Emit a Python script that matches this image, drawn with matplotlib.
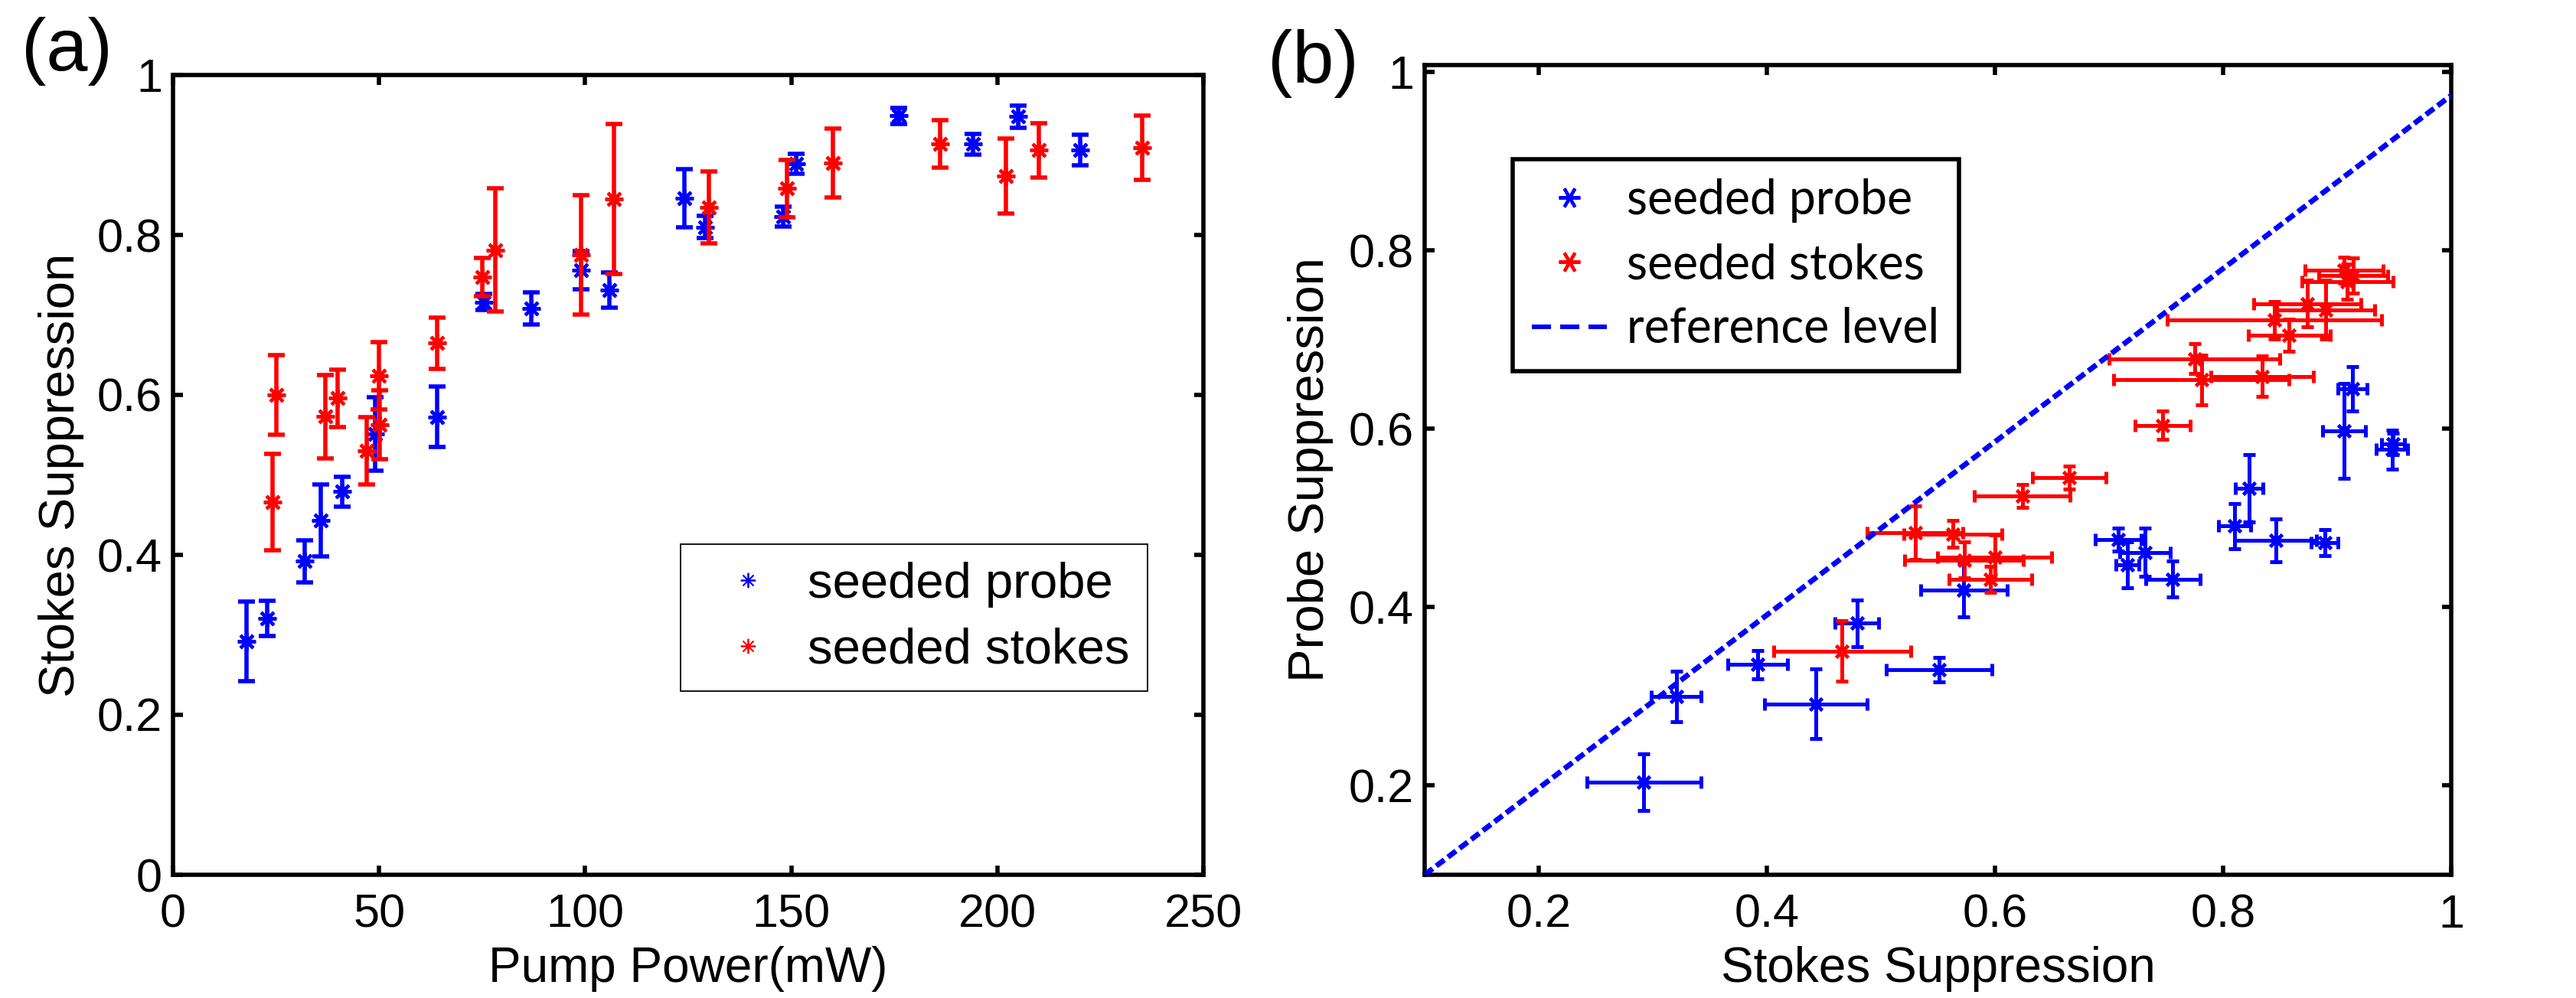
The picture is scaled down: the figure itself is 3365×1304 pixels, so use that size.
import matplotlib
matplotlib.use("Agg")
import matplotlib.pyplot as plt
from matplotlib.lines import Line2D
from matplotlib.ticker import FuncFormatter, MultipleLocator

plt.rcParams['font.family'] = ['Liberation Sans', 'DejaVu Sans']

# ---------------- data: panel (a) ----------------
probe_power = [17.9, 22.9, 31.9, 35.9, 41.0, 49.0, 64.0, 75.5, 86.9, 99.0,
               105.9, 124.1, 129.1, 148.0, 151.2, 176.1, 194.1, 205.1, 220.1]
probe_stokes_supp = [0.292, 0.3205, 0.392, 0.443, 0.479, 0.551, 0.5726, 0.716, 0.708, 0.756,
                     0.7315, 0.846, 0.810, 0.823, 0.889, 0.949, 0.9135, 0.948, 0.906]
probe_stokes_err = [0.05, 0.022, 0.026, 0.045, 0.019, 0.046, 0.038, 0.010, 0.020, 0.024,
                    0.022, 0.036, 0.014, 0.012, 0.012, 0.010, 0.013, 0.014, 0.019]

stokes_power = [24.1, 25.0, 36.9, 40.0, 46.9, 50.0, 50.1, 64.0, 75.0, 78.2,
                99.0, 107.0, 130.0, 149.0, 160.1, 186.1, 202.1, 210.1, 235.1]
stokes_stokes_supp = [0.466, 0.600, 0.573, 0.596, 0.530, 0.624, 0.563, 0.665, 0.747, 0.781,
                      0.775, 0.845, 0.834, 0.858, 0.890, 0.914, 0.874, 0.906, 0.909]
stokes_stokes_err = [0.060, 0.050, 0.052, 0.036, 0.042, 0.042, 0.043, 0.032, 0.024, 0.077,
                     0.075, 0.094, 0.045, 0.036, 0.043, 0.030, 0.047, 0.034, 0.040]

# ---------------- data: panel (b) (x = Stokes suppression above) ----------------
probe_probe_supp = [0.204, 0.300, 0.3356, 0.2917, 0.382, 0.330, 0.4196, 0.4476, 0.476, 0.4316,
                    0.4616, 0.475, 0.491, 0.5335, 0.4725, 0.583, 0.6448, 0.577, 0.5976]
probe_probe_err = [0.032, 0.028, 0.016, 0.039, 0.026, 0.0135, 0.030, 0.026, 0.013, 0.020,
                   0.027, 0.024, 0.025, 0.038, 0.0145, 0.012, 0.025, 0.022, 0.053]

stokes_probe_supp = [0.351, 0.456, 0.453, 0.4316, 0.4837, 0.5246, 0.482, 0.5455, 0.604, 0.655,
                     0.6788, 0.722, 0.659, 0.705, 0.7335, 0.772, 0.7406, 0.778, 0.765]
stokes_probe_err = [0.034, 0.025, 0.020, 0.0145, 0.030, 0.013, 0.015, 0.013, 0.016, 0.028,
                    0.017, 0.021, 0.023, 0.018, 0.033, 0.020, 0.026, 0.015, 0.020]

ref_x = [0.1, 1.0]
ref_y = [0.1, 0.974]

legend_a = ['seeded probe', 'seeded stokes']
legend_b = ['seeded probe', 'seeded stokes', 'reference level']

BLUE = (0, 0, 1)
RED = (1, 0, 0)
AST = (8, 2, 0)

W, H = 3366, 1304
fig = plt.figure(figsize=(W / 100, H / 100), dpi=100)
fig.patch.set_facecolor('white')

axA = fig.add_axes([226 / W, 1 - 1143 / H, (1572 - 226) / W, (1143 - 98) / H])
axB = fig.add_axes([1861 / W, 1 - 1143 / H, (3202 - 1861) / W, (1143 - 85) / H])

fmt = FuncFormatter(lambda v, p: '%g' % round(v, 6))


def style_axes(ax):
    for s in ax.spines.values():
        s.set_linewidth(4)
        s.set_color('black')
    ax.tick_params(direction='in', length=9, width=4, top=True, right=True,
                   labelsize=44, colors='black')
    ax.tick_params(axis='x', pad=18)
    ax.tick_params(axis='y', pad=10)
    ax.xaxis.set_major_formatter(fmt)
    ax.yaxis.set_major_formatter(fmt)


# ---------------- panel (a) ----------------
for x, y, e, c in [(probe_power, probe_stokes_supp, probe_stokes_err, BLUE),
                   (stokes_power, stokes_stokes_supp, stokes_stokes_err, RED)]:
    axA.errorbar(x, y, yerr=e, fmt='none', ecolor=c, elinewidth=4,
                 capsize=8, capthick=4)
    axA.plot(x, y, ls='none', marker=AST, ms=17, mew=3.0, color=c, mec=c)

axA.set_xlim(0, 250)
axA.set_ylim(0, 1)
axA.xaxis.set_major_locator(MultipleLocator(50))
axA.yaxis.set_major_locator(MultipleLocator(0.2))
style_axes(axA)
axA.set_xlabel('Pump Power(mW)', fontsize=46, labelpad=8)
axA.set_ylabel('Stokes Suppression', fontsize=47, labelpad=12)

hA = [Line2D([], [], ls='none', marker=AST, ms=14, mew=1.3, color=BLUE),
      Line2D([], [], ls='none', marker=AST, ms=14, mew=1.3, color=RED)]
legA = axA.legend(hA, legend_a, loc='upper left',
                  bbox_to_anchor=(889 / W, 1 - 711 / H), bbox_transform=fig.transFigure,
                  borderaxespad=0, fancybox=False, edgecolor='black', framealpha=1,
                  fontsize=47, borderpad=0.35, handlelength=2.0, handletextpad=0.2,
                  labelspacing=0.4)
legA.get_frame().set_linewidth(1.3)

# ---------------- panel (b) ----------------
for x, xe, y, ye, c in [(probe_stokes_supp, probe_stokes_err, probe_probe_supp, probe_probe_err, BLUE),
                        (stokes_stokes_supp, stokes_stokes_err, stokes_probe_supp, stokes_probe_err, RED)]:
    axB.errorbar(x, y, xerr=xe, yerr=ye, fmt='none', ecolor=c, elinewidth=3.6,
                 capsize=5.5, capthick=3.6)
    axB.plot(x, y, ls='none', marker=AST, ms=16, mew=3.0, color=c, mec=c)

axB.plot(ref_x, ref_y, color=BLUE, lw=5, ls=(0, (1.9, 0.85)), zorder=5)

axB.set_xlim(0.1, 1.0)
axB.set_ylim(0.1, 1.008)
axB.xaxis.set_major_locator(MultipleLocator(0.2))
axB.yaxis.set_major_locator(MultipleLocator(0.2))
style_axes(axB)
axB.set_xlabel('Stokes Suppression', fontsize=46, labelpad=8)
axB.set_ylabel('Probe Suppression', fontsize=47, labelpad=14)

hB = [Line2D([], [], ls='none', marker=(6, 2, 90), ms=20, mew=3, color=BLUE),
      Line2D([], [], ls='none', marker=(6, 2, 90), ms=20, mew=3, color=RED),
      Line2D([], [], color=BLUE, lw=4.3, ls=(0, (4.2, 2.0)))]
legB = axB.legend(hB, legend_b, loc='upper left',
                  bbox_to_anchor=(1976 / W, 1 - 208 / H), bbox_transform=fig.transFigure,
                  borderaxespad=0, fancybox=False, edgecolor='black', framealpha=1,
                  prop={'family': ['Lato', 'DejaVu Sans'], 'size': 45},
                  borderpad=0.4, handlelength=1.57, handletextpad=0.42, labelspacing=0.42)
legB.get_frame().set_linewidth(4)

fig.text(28 / W, 1 - 67 / H, '(a)', fontsize=70, ha='left', va='center')
fig.text(1656 / W, 1 - 83 / H, '(b)', fontsize=70, ha='left', va='center')

fig.savefig('out.png', dpi=100, facecolor='white')
